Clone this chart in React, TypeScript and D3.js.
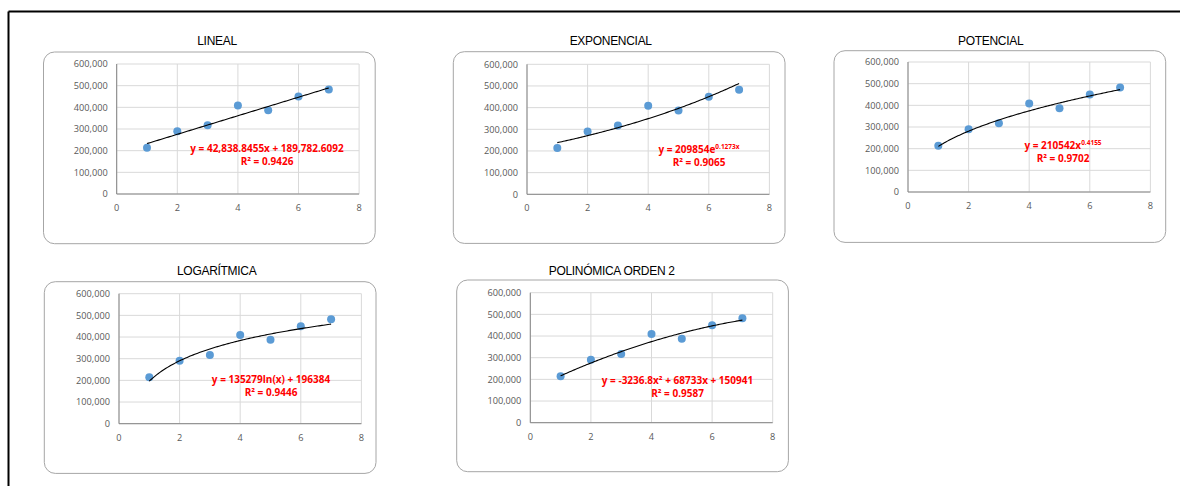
import React from "react";
import * as d3 from "d3";

// ---- data ----
const X_VALUES = [1, 2, 3, 4, 5, 6, 7];
const Y_VALUES = [214000, 290000, 317000, 409000, 387000, 450000, 482000];
const X_TICKS = [0, 2, 4, 6, 8];
const Y_TICKS = [0, 100000, 200000, 300000, 400000, 500000, 600000];

const LINEAR_COEF = [42838.8455, 189782.6092];
const EXP_COEF = [209854, 0.1273];
const POW_COEF = [210542, 0.4155];
const LOG_COEF = [135279, 196384];
const POLY_COEF = [-3236.8, 68733, 150941];

const TITLES = ["LINEAL", "EXPONENCIAL", "POTENCIAL", "LOGARÍTMICA", "POLINÓMICA ORDEN 2"];
const R2_LABELS = ["R² = 0.9426", "R² = 0.9065", "R² = 0.9702", "R² = 0.9446", "R² = 0.9587"];

const fits: ((x: number) => number)[] = [
  (x) => LINEAR_COEF[0] * x + LINEAR_COEF[1],
  (x) => EXP_COEF[0] * Math.exp(EXP_COEF[1] * x),
  (x) => POW_COEF[0] * Math.pow(x, POW_COEF[1]),
  (x) => LOG_COEF[0] * Math.log(x) + LOG_COEF[1],
  (x) => POLY_COEF[0] * x * x + POLY_COEF[1] * x + POLY_COEF[2],
];

// ---- layout ----
const layouts = [
  { bx: 43.5, by: 52, px: 116.7, py: 64, tx: 217, ty: 45, ex: 267, ey: 152 },
  { bx: 453.3, by: 51.7, px: 527, py: 64.3, tx: 610.7, ty: 45, ex: 699, ey: 152.7 },
  { bx: 834, by: 50.7, px: 908, py: 62, tx: 990.7, ty: 45, ex: 1063, ey: 148.7 },
  { bx: 44.3, by: 281.7, px: 119, py: 293.7, tx: 216.7, ty: 275, ex: 271, ey: 382.7 },
  { bx: 456.7, by: 280, px: 530.3, py: 292.7, tx: 611.7, ty: 275, ex: 677.5, ey: 383.5 },
];

const PW = 242.4;
const PH = 130;
const BW = 331.7;
const BH = 191.7;

const fmt = d3.format(",");
const RED = "#FF0000";
const EQ_FONT = "'Open Sans', 'Noto Sans', sans-serif";

function Equation({ i, x, y }: { i: number; x: number; y: number }) {
  const common = {
    x,
    textAnchor: "middle" as const,
    fill: RED,
    fontFamily: EQ_FONT,
    fontWeight: 700,
    fontSize: 10,
  };
  let first: React.ReactNode;
  if (i === 0) {
    first = <text {...common} y={y}>y = 42,838.8455x + 189,782.6092</text>;
  } else if (i === 1) {
    first = (
      <text {...common} y={y}>
        y = 209854e<tspan fontSize={6.5} dy={-4}>0.1273x</tspan>
      </text>
    );
  } else if (i === 2) {
    first = (
      <text {...common} y={y}>
        y = 210542x<tspan fontSize={6.5} dy={-4}>0.4155</tspan>
      </text>
    );
  } else if (i === 3) {
    first = <text {...common} y={y}>y = 135279ln(x) + 196384</text>;
  } else {
    first = <text {...common} y={y}>y = -3236.8x² + 68733x + 150941</text>;
  }
  return (
    <g>
      {first}
      <text {...common} y={y + 13}>
        {R2_LABELS[i]}
      </text>
    </g>
  );
}

function Chart({ i }: { i: number }) {
  const L = layouts[i];
  const x = d3.scaleLinear().domain([0, 8]).range([L.px, L.px + PW]);
  const y = d3.scaleLinear().domain([0, 600000]).range([L.py + PH, L.py]);
  const trendX = d3.range(1, 7.0001, 0.05);
  const line = d3
    .line<number>()
    .x((d) => x(d))
    .y((d) => y(fits[i](d)))
    .curve(d3.curveLinear);
  return (
    <g>
      <rect x={L.bx} y={L.by} width={BW} height={BH} rx={11} ry={11} fill="#fff" stroke="#A6A6A6" strokeWidth={1} />
      <text x={L.tx} y={L.ty} textAnchor="middle" fontFamily="'Liberation Sans', Arial, sans-serif" fontSize={12} fill="#000" letterSpacing={-0.3}>
        {TITLES[i]}
      </text>
      {Y_TICKS.map((t) => (
        <line key={"h" + t} x1={x(0)} x2={x(8)} y1={y(t)} y2={y(t)} stroke="#D9D9D9" strokeWidth={1} />
      ))}
      {X_TICKS.map((t) => (
        <line key={"v" + t} x1={x(t)} x2={x(t)} y1={y(0)} y2={y(600000)} stroke="#D9D9D9" strokeWidth={1} />
      ))}
      <line x1={x(0)} x2={x(0)} y1={y(0)} y2={y(600000)} stroke="#868686" strokeWidth={1} />
      <line x1={x(0)} x2={x(8)} y1={y(0)} y2={y(0)} stroke="#868686" strokeWidth={1} />
      {Y_TICKS.map((t) => (
        <text key={"yl" + t} x={x(0) - 9} y={y(t) + 3.3} textAnchor="end" fontFamily="'Open Sans', 'Noto Sans', sans-serif" fontSize={9.2} fill="#595959">
          {fmt(t)}
        </text>
      ))}
      {X_TICKS.map((t) => (
        <text key={"xl" + t} x={x(t)} y={y(0) + 17} textAnchor="middle" fontFamily="'Open Sans', 'Noto Sans', sans-serif" fontSize={9.2} fill="#595959">
          {t}
        </text>
      ))}
      {X_VALUES.map((xv, k) => (
        <circle key={"p" + k} cx={x(xv)} cy={y(Y_VALUES[k])} r={4} fill="#5B9BD5" />
      ))}
      <path d={line(trendX) || ""} fill="none" stroke="#000" strokeWidth={1.1} />
      <Equation i={i} x={L.ex} y={L.ey} />
    </g>
  );
}

export default function App() {
  return (
    <svg width={1180} height={486} style={{ position: "absolute", left: 0, top: 0, background: "#fff" }}>
      <rect x={0} y={0} width={1180} height={486} fill="#fff" />
      <line x1={8.5} y1={11.5} x2={1180} y2={11.5} stroke="#000" strokeWidth={2} />
      <line x1={8.5} y1={11.5} x2={8.5} y2={486} stroke="#000" strokeWidth={2} />
      {TITLES.map((_, i) => (
        <Chart key={i} i={i} />
      ))}
    </svg>
  );
}
